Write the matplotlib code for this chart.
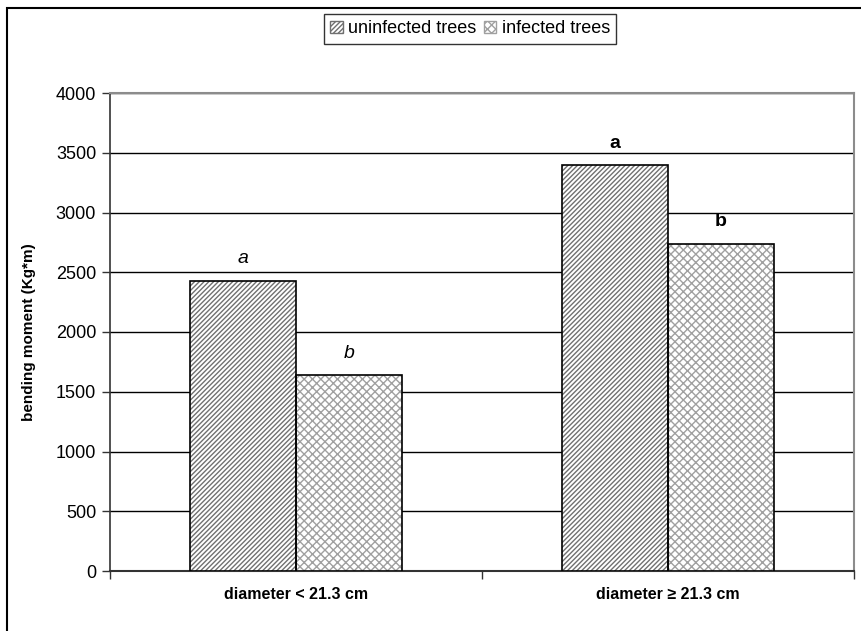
import matplotlib
matplotlib.use("Agg")
import matplotlib.pyplot as plt
from matplotlib.patches import Rectangle, Patch
import numpy as np

categories = ["diameter < 21.3 cm", "diameter \u2265 21.3 cm"]
series_names = ["uninfected trees", "infected trees"]
uninfected = [2430, 3400]
infected = [1640, 2740]
letters_uninfected = ["a", "a"]
letters_infected = ["b", "b"]
letter_styles = ["italic", "normal"]
letter_weights = ["normal", "bold"]
y_ticks = [0, 500, 1000, 1500, 2000, 2500, 3000, 3500, 4000]

plt.rcParams["font.family"] = ["Liberation Sans", "DejaVu Sans"]
plt.rcParams["hatch.linewidth"] = 1.0

fig = plt.figure(figsize=(8.61, 6.31), dpi=100)
ax = fig.add_axes([110 / 861, 60 / 631, 744 / 861, 478 / 631])

x = np.arange(len(categories))
w = 0.285

hatch_a = "///////"
hatch_b = "xxxx"
hatch_colors = ["#707070", "#a0a0a0"]

for vals, off, hatch, hc in [(uninfected, -w / 2, hatch_a, hatch_colors[0]),
                             (infected, w / 2, hatch_b, hatch_colors[1])]:
    # hatched fill in grey, then a black outline on top
    ax.bar(x + off, vals, w, color="white", edgecolor=hc, hatch=hatch,
           linewidth=0, zorder=3)
    ax.bar(x + off, vals, w, color="none", edgecolor="black", linewidth=1.2, zorder=4)

for i in range(len(categories)):
    ax.text(x[i] - w / 2, uninfected[i] + 110, letters_uninfected[i], ha="center",
            va="bottom", fontsize=14, style=letter_styles[i], weight=letter_weights[i])
    ax.text(x[i] + w / 2, infected[i] + 110, letters_infected[i], ha="center",
            va="bottom", fontsize=14, style=letter_styles[i], weight=letter_weights[i])

ax.set_xlim(-0.5, 1.5)
ax.set_ylim(0, 4000)
ax.set_yticks(y_ticks)
ax.set_yticklabels([str(v) for v in y_ticks], fontsize=13)
ax.yaxis.grid(True, color="black", linewidth=1.0, zorder=0)
ax.set_axisbelow(True)

ax.set_xticks([-0.5, 0.5, 1.5])
ax.set_xticklabels([])
ax.tick_params(axis="x", length=6, width=1, direction="out", color="#333333")
ax.tick_params(axis="y", length=6, width=1, direction="out", pad=4, color="#333333")
for i, c in enumerate(categories):
    ax.text(x[i], -130, c, ha="center", va="top", fontsize=11.5, weight="bold",
            family=["Liberation Sans Narrow", "Liberation Sans", "DejaVu Sans"])

ax.set_ylabel("bending moment (Kg*m)", fontsize=11, weight="bold", labelpad=14)

for s in ["top", "right"]:
    ax.spines[s].set_color("#8c8c8c")
    ax.spines[s].set_linewidth(1.5)
ax.spines["left"].set_color("#333333")
ax.spines["bottom"].set_color("#333333")
ax.spines["left"].set_linewidth(1.2)
ax.spines["bottom"].set_linewidth(1.5)

handles = [Patch(facecolor="white", edgecolor=hatch_colors[0], hatch=hatch_a),
           Patch(facecolor="white", edgecolor=hatch_colors[1], hatch=hatch_b)]
leg = fig.legend(handles, series_names, loc="upper center",
                 bbox_to_anchor=(470 / 861, 1 - 14 / 631), ncol=2, fontsize=13,
                 frameon=True, fancybox=False, edgecolor="black",
                 handlelength=0.7, handleheight=0.7, handletextpad=0.3,
                 columnspacing=0.4, borderpad=0.35, borderaxespad=0)
leg.get_frame().set_linewidth(1.0)

# outer frame
fig.add_artist(Rectangle((7 / 861, -0.1), 1.2, 1.1 - 8 / 631, transform=fig.transFigure,
                         fill=False, edgecolor="black", linewidth=1.5))

fig.savefig("out.png", dpi=100)
